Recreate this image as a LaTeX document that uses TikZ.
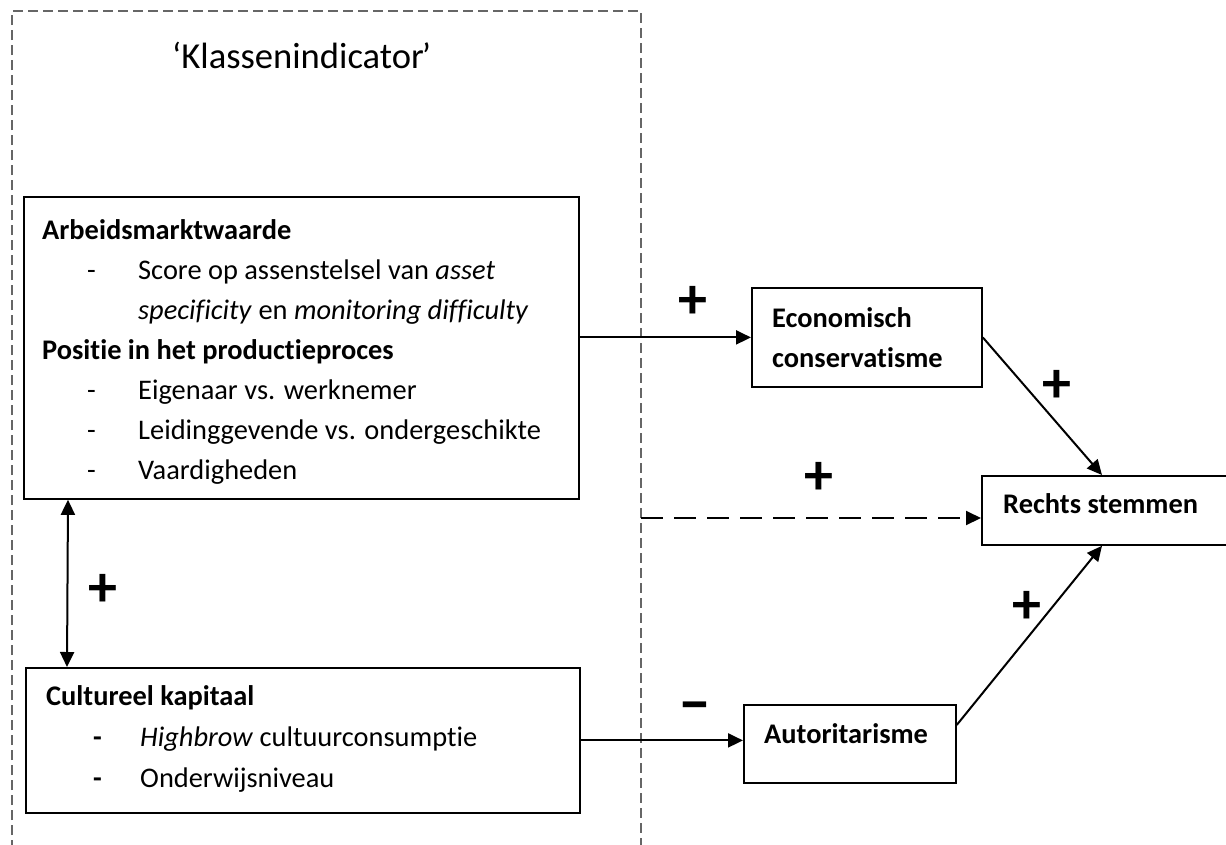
\documentclass[tikz,border=0pt]{standalone}
\usepackage{fontspec}
\setmainfont{Carlito}[Ligatures={NoCommon}]
\usetikzlibrary{arrows.meta,calc}
\begin{document}
\begin{tikzpicture}[x=1pt,y=-1pt,
  box/.style={draw=black,line width=1.8pt,rectangle,inner sep=0pt,anchor=north west},
  txt/.style={anchor=base west,inner sep=0pt,font=\fontsize{28.4}{34}\selectfont},
  btxt/.style={anchor=base west,inner sep=0pt,font=\fontsize{28.4}{34}\selectfont\bfseries},
  sign/.style={inner sep=0pt,font=\fontsize{58}{58}\selectfont\bfseries},
  arr/.style={line width=2pt,-{Triangle[length=15pt,width=14pt]}},
  darr/.style={line width=2pt,{Triangle[length=15pt,width=14pt]}-{Triangle[length=15pt,width=14pt]}},
  border/.style={draw=black!60,line width=1.3pt,dash pattern=on 10pt off 5pt},
]
\useasboundingbox (0,0) rectangle (1226,844);
\fill[white] (0,0) rectangle (1226,844);

% dashed group border
\draw[border] (12,880) -- (12,11) -- (641,11) -- (641,880);

% title
\node[anchor=base west,inner sep=0pt,font=\fontsize{36.6}{40}\selectfont] (title) at (172,68) {‘Klassenindicator\kern-2pt’};

% boxes
\node[box,minimum width=555pt,minimum height=302pt] (b1) at (23,196) {};
\node[box,minimum width=554pt,minimum height=145pt] (b2) at (25,667) {};
\node[box,minimum width=230pt,minimum height=99pt] (econ) at (751,287) {};
\node[box,minimum width=290pt,minimum height=69pt] (rechts) at (981,475) {};
\node[box,minimum width=212pt,minimum height=78pt] (auto) at (743,704) {};

% box 1 text
\node[btxt] (l1) at (42,239) {Arbeidsmarktwaarde};
\node[txt] (d1) at (87,279) {-};
\node[txt] (l2) at (138,279) {Score op assenstelsel van \textit{asset}};
\node[txt] (l3) at (138,319) {\textit{specificity} en \textit{monitoring difficulty}};
\node[btxt] (l4) at (42,359) {Positie in het productieproces};
\node[txt] (d2) at (87,399) {-};
\node[txt] (l5) at (138,399) {Eigenaar vs. werknemer};
\node[txt] (d3) at (87,439) {-};
\node[txt] (l6) at (138,439) {Leidinggevende vs. ondergeschikte};
\node[txt] (d4) at (87,479) {-};
\node[txt] (l7) at (138,479) {Vaardigheden};

% box 2 text
\node[btxt] (m1) at (46,705) {Cultureel kapitaal};
\node[btxt] (e1) at (93,746) {-};
\node[txt] (m2) at (140,746) {\textit{Highbrow} cultuurconsumptie};
\node[btxt] (e2) at (93,787) {-};
\node[txt] (m3) at (140,787) {Onderwijsniveau};

% right boxes text
\node[btxt] (n1) at (772,327) {Economisch};
\node[btxt] (n2) at (772,367) {conservatisme};
\node[btxt] (n3) at (1003,513) {Rechts stemmen};
\node[btxt] (n4) at (764,743) {Autoritarisme};

% connectors
\draw[arr] (econ.west -| b1.east) -- (econ.west);
\draw[arr] (econ.east) -- ([xshift=121pt]rechts.north west);
\coordinate (ds) at (641,518);
\draw[arr,dash pattern=on 22pt off 11pt] (ds) -- (ds -| rechts.west);
\draw[arr] ([yshift=19pt]auto.east) -- ([xshift=121pt]rechts.south west);
\draw[arr] (b2.east) -- (b2.east -| auto.west);
\draw[darr] ([xshift=45pt]b1.south west) -- ([xshift=42pt]b2.north west);

% signs
\node[sign] (s1) at (693,302) {+};
\node[sign] (s2) at (1057,386) {+};
\node[sign] (s3) at (819,478) {+};
\node[sign] (s4) at (1027,607) {+};
\node[sign,font=\fontsize{66}{66}\selectfont\bfseries] (s5) at (695,713) {–};
\node[sign] (s6) at (103,590) {+};
\end{tikzpicture}
\end{document}
